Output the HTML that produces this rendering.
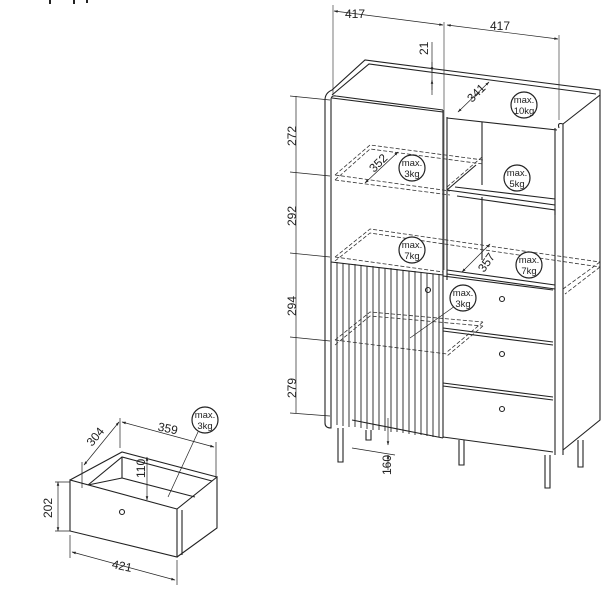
<!DOCTYPE html>
<html><head><meta charset="utf-8"><style>
html,body{margin:0;padding:0;background:#fff;width:613px;height:595px;overflow:hidden}
svg{display:block}
text{font-family:"Liberation Sans",sans-serif;fill:#222}
</style></head><body>
<svg width="613" height="595" viewBox="0 0 613 595" xmlns="http://www.w3.org/2000/svg">
<defs>
<marker id="a" viewBox="0 0 10 10" refX="9" refY="5" markerWidth="6" markerHeight="6" orient="auto-start-reverse"><path d="M0,2 L10,5 L0,8z" fill="#222"/></marker>
</defs>
<rect x="49" y="0" width="2" height="4" fill="#222"/><rect x="73" y="0" width="2" height="4" fill="#222"/>
<rect x="86" y="0" width="2" height="3" fill="#222"/>
<g stroke="#222" fill="none" stroke-width="1.1">
<line x1="333" y1="5" x2="333" y2="95" stroke-width="0.6"/>
<line x1="444" y1="22" x2="444" y2="270" stroke-width="0.6"/>
<line x1="559" y1="35" x2="559" y2="120" stroke-width="0.6"/>
<line x1="334" y1="11" x2="443" y2="25" marker-start="url(#a)" marker-end="url(#a)" stroke-width="0.7"/>
<line x1="447" y1="25" x2="558" y2="39" marker-start="url(#a)" marker-end="url(#a)" stroke-width="0.7"/>
<line x1="432" y1="42" x2="432" y2="95" stroke-width="0.7"/>
<line x1="432" y1="62" x2="432" y2="71" marker-end="url(#a)" stroke-width="0.7"/>
<line x1="432" y1="90" x2="432" y2="80" marker-end="url(#a)" stroke-width="0.7"/>
<path d="M325,100 Q325,93 332,90 L365,60 L600,90 L600,95 L563,124"/>
<path d="M332,95 L369,64 L596,94"/>
<path d="M332,98 L443,112"/>
<path d="M447,118 L557,130"/>
<path d="M325,100 L325,423 Q325,428 331,428 L331,100"/>
<path d="M331,100 Q331,95 336,96 L443,110"/>
<path d="M559,128 Q557,122 563,124 L563,455"/>
<path d="M555,128 L555,455"/>
<path d="M600,95 L600,420 L563,450"/>
<line x1="443" y1="110" x2="443" y2="438"/>
<line x1="447" y1="117" x2="447" y2="280"/>
<line x1="482" y1="122" x2="482" y2="185"/>
<line x1="482" y1="197" x2="482" y2="260"/>
<path d="M447,190 L555,205 M455,187 L555,199 M447,190 L476,165 M457,196 L555,210 L555,215"/>
<path d="M447,270 L555,285 M447,274 L555,289"/>
<path d="M331,262 L443,275"/>
<g stroke-width="0.9">
<line x1="337" y1="262" x2="337" y2="425"/><line x1="343" y1="263" x2="343" y2="426"/><line x1="349" y1="264" x2="349" y2="427"/><line x1="355" y1="264" x2="355" y2="427"/><line x1="361" y1="265" x2="361" y2="428"/><line x1="367" y1="266" x2="367" y2="429"/><line x1="373" y1="266" x2="373" y2="430"/><line x1="379" y1="267" x2="379" y2="430"/><line x1="385" y1="268" x2="385" y2="431"/><line x1="391" y1="268" x2="391" y2="432"/><line x1="397" y1="269" x2="397" y2="432"/><line x1="403" y1="270" x2="403" y2="433"/><line x1="409" y1="271" x2="409" y2="434"/><line x1="415" y1="271" x2="415" y2="435"/><line x1="421" y1="272" x2="421" y2="435"/><line x1="427" y1="273" x2="427" y2="436"/><line x1="433" y1="274" x2="433" y2="437"/><line x1="439" y1="274" x2="439" y2="437"/>
</g>
<path d="M352,420 L443,438"/>
<circle cx="428" cy="290" r="2.5"/>
<path d="M443,276 L553,290 M443,328 L553,342 M443,331 L553,345 M443,383 L553,397 M443,386 L553,400 M443,437 L553,452"/>
<circle cx="502" cy="299" r="2.5"/><circle cx="502" cy="354" r="2.5"/><circle cx="502" cy="409" r="2.5"/>
<path d="M338,428 L338,462 L343,462 L343,428"/>
<path d="M366,430 L366,440 L371,440 L371,430"/>
<path d="M459,440 L459,465 L464,465 L464,440"/>
<path d="M545,455 L545,488 L550,488 L550,455"/>
<path d="M578,440 L578,467 L583,467 L583,440"/>
</g>
<g stroke="#333" fill="none" stroke-width="0.8" stroke-dasharray="4,2">
<path d="M335,175 L370,145 L483,160 M335,180 L370,149 L483,164 M335,175 L450,191 M335,180 L450,195 M447,187 L482,157"/>
<path d="M335,257 L370,229 L600,262 M335,261 L370,233 L600,267 M600,262 L563,289 M600,267 L565,294 M335,257 L443,272"/>
<path d="M335,340 L370,312 L483,322 M335,345 L370,316 L483,326 M483,322 L447,352 M483,326 L447,356 M335,340 L447,354"/>
</g>
<g stroke="#222" stroke-width="0.7" fill="none">
<line x1="296" y1="96" x2="296" y2="413"/>
<path d="M290,96 L330,100 M290,172 L330,176 M290,253 L330,257 M290,337 L330,341 M290,413 L330,416"/>
<line x1="365" y1="183" x2="398" y2="152" marker-start="url(#a)" marker-end="url(#a)"/>
<line x1="462" y1="272" x2="490" y2="244" marker-start="url(#a)" marker-end="url(#a)"/>
<line x1="458" y1="112" x2="489" y2="82" marker-start="url(#a)" marker-end="url(#a)"/>
<line x1="388" y1="418" x2="388" y2="445" marker-end="url(#a)"/>
<line x1="388" y1="470" x2="388" y2="455" marker-end="url(#a)"/>
<path d="M352,448 L395,455"/>
<line x1="455" y1="306" x2="410" y2="338"/>
</g>
<g font-size="12">
<text x="345" y="18">417</text>
<text x="490" y="30">417</text>
<text x="0" y="0" transform="translate(428 55) rotate(-90)">21</text>
<text x="0" y="0" transform="translate(296 146) rotate(-90)">272</text>
<text x="0" y="0" transform="translate(296 226) rotate(-90)">292</text>
<text x="0" y="0" transform="translate(296 316) rotate(-90)">294</text>
<text x="0" y="0" transform="translate(296 398) rotate(-90)">279</text>
<text x="0" y="0" transform="translate(391 475) rotate(-90)">160</text>
<text x="0" y="0" transform="translate(374 173) rotate(-45)">352</text>
<text x="0" y="0" transform="translate(472 103) rotate(-45)">341</text>
<text x="0" y="0" transform="translate(484 273) rotate(-55)">357</text>
</g>
<g stroke="#222" fill="#fff" stroke-width="1.2">
<circle cx="524" cy="105" r="13"/><circle cx="412" cy="168" r="13"/><circle cx="517" cy="178" r="13"/>
<circle cx="412" cy="250" r="13"/><circle cx="529" cy="265" r="13"/><circle cx="463" cy="298" r="13"/>
<circle cx="205" cy="420" r="13"/>
</g>
<g font-size="9.5" text-anchor="middle">
<text x="524" y="103">max.</text><text x="524" y="114">10kg</text>
<text x="412" y="166">max.</text><text x="412" y="177">3kg</text>
<text x="517" y="176">max.</text><text x="517" y="187">5kg</text>
<text x="412" y="248">max.</text><text x="412" y="259">7kg</text>
<text x="529" y="263">max.</text><text x="529" y="274">7kg</text>
<text x="463" y="296">max.</text><text x="463" y="307">3kg</text>
<text x="205" y="418">max.</text><text x="205" y="429">3kg</text>
</g>
<g stroke="#222" fill="none" stroke-width="1.1">
<path d="M70,480 L70,531 L177,557 L177,509 Z"/>
<path d="M177,509 L217,477 L217,528 L177,557"/>
<path d="M182,510 L182,555"/>
<path d="M70,480 L122,452 L217,477"/>
<path d="M88,485 L122,457 L212,481"/>
<path d="M122,457 L122,478 M122,478 L88,485 M122,478 L195,497"/>
<circle cx="122" cy="512" r="2.5"/>
<g stroke-width="0.7">
<path d="M120,448 L120,418 M216,478 L216,442 M82,488 L82,462 M55,482 L70,482 M55,531 L70,531 M70,535 L70,558 M177,560 L177,585"/>
<line x1="122" y1="422" x2="214" y2="447" marker-start="url(#a)" marker-end="url(#a)"/>
<line x1="84" y1="465" x2="119" y2="422" marker-start="url(#a)" marker-end="url(#a)"/>
<line x1="58" y1="482" x2="58" y2="531" marker-start="url(#a)" marker-end="url(#a)"/>
<line x1="72" y1="552" x2="175" y2="580" marker-start="url(#a)" marker-end="url(#a)"/>
<line x1="147" y1="457" x2="147" y2="500" marker-start="url(#a)" marker-end="url(#a)"/>
<line x1="198" y1="432" x2="168" y2="497"/>
</g>
</g>
<g font-size="12">
<text x="0" y="0" transform="translate(92 447) rotate(-50)">304</text>
<text x="158" y="433" transform="rotate(12 170 428)">359</text>
<text x="0" y="0" transform="translate(145 478) rotate(-90)">110</text>
<text x="0" y="0" transform="translate(52 518) rotate(-90)">202</text>
<text x="112" y="570" transform="rotate(12 122 566)">421</text>
</g>
</svg>
</body></html>
